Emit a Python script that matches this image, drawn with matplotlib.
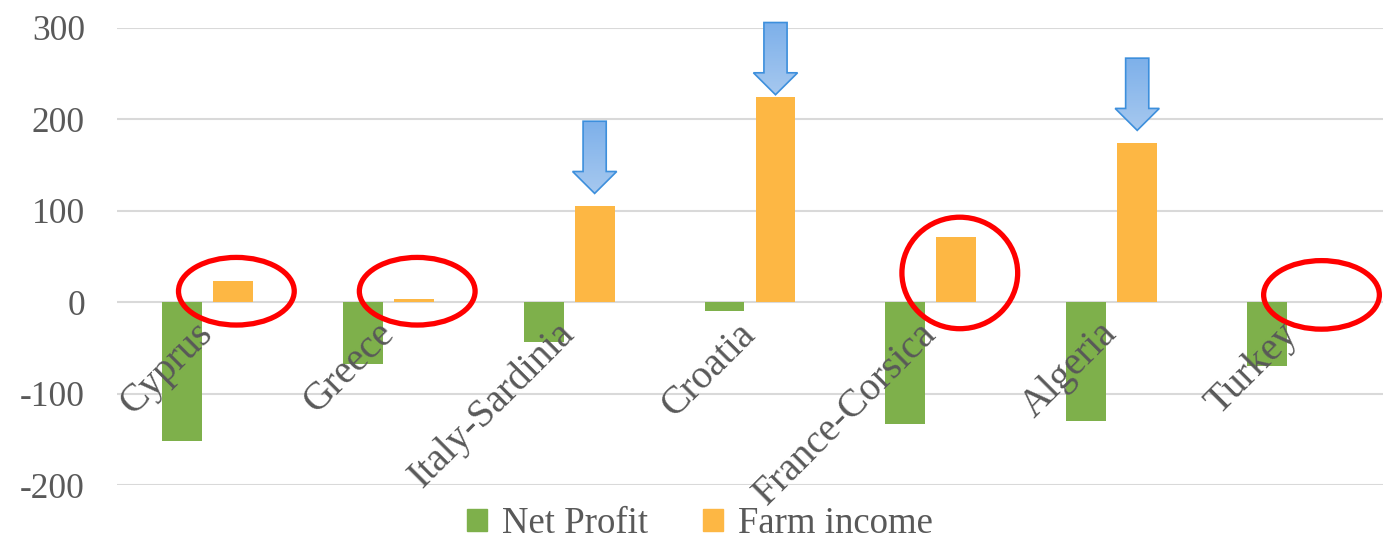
import numpy as np
import matplotlib
matplotlib.use('Agg')
import matplotlib.pyplot as plt
import matplotlib.transforms as mtransforms
from matplotlib.patches import Ellipse, Polygon, Patch

# data
countries = ['Cyprus', 'Greece', 'Italy-Sardinia', 'Croatia', 'France-Corsica', 'Algeria', 'Turkey']
net_profit = [-152, -68, -44, -10, -133, -130, -70]
farm_income = [23, 4, 105, 224, 71, 174, 0.5]

# annotations: blue arrows above some bars, red rings around others
arrow_idx = [2, 3, 5]
arrow_tips = [119, 227, 188]
ring_idx = [0, 1, 4, 6]
ring_centres = [12, 12, 32, 8]
ring_heights = [74, 74, 122, 75]

green = '#7EB04B'
orange = '#FDB744'
grey_txt = '#595959'

plt.rcParams['font.family'] = ['Liberation Serif', 'DejaVu Serif']
plt.rcParams['axes.unicode_minus'] = False

fig = plt.figure(figsize=(13.83, 5.48), dpi=100)
ax = fig.add_axes([117 / 1383, 63 / 548, 1266 / 1383, 457 / 548])

x = np.arange(len(countries))
w = 0.221
off = 0.141
ax.bar(x - off, net_profit, w, color=green, zorder=2)
ax.bar(x + off, farm_income, w, color=orange, zorder=2)

ax.set_xlim(-0.5, len(countries) - 0.5)
ax.set_ylim(-200, 300)
ax.set_yticks([-200, -100, 0, 100, 200, 300])
ax.yaxis.grid(True, color='#d9d9d9', lw=1.5, zorder=0)
ax.set_axisbelow(True)
for s in ['top', 'right', 'left', 'bottom']:
    ax.spines[s].set_visible(False)
ax.tick_params(axis='y', length=0, colors=grey_txt, labelsize=25.5, pad=23)
ax.set_xticks([])

# category labels hang from the zero line, drawn over the bars
lbl_trans = mtransforms.offset_copy(ax.transData, fig=fig, x=0, y=-19, units='points')
for i, name in enumerate(countries):
    ax.text(i, 0, name, rotation=45, rotation_mode='anchor', ha='right', va='center',
            fontsize=28.5, color=grey_txt, transform=lbl_trans, zorder=7)

# blue arrows with a light gradient
shaft = 0.064
head = 0.122
length = 79
head_len = 24
grad = np.linspace(0, 1, 100).reshape(-1, 1)
cmap = matplotlib.colors.LinearSegmentedColormap.from_list('arr', ['#a6c8ef', '#7db0ea'])
for i, tip in zip(arrow_idx, arrow_tips):
    cx = i + off
    top = tip + length
    hb = tip + head_len
    pts = [(cx - shaft, top), (cx + shaft, top), (cx + shaft, hb), (cx + head, hb),
           (cx, tip), (cx - head, hb), (cx - shaft, hb)]
    poly = Polygon(pts, closed=True, facecolor='none', edgecolor='#3d8fdc', lw=1.2,
                   zorder=5, clip_on=False)
    ax.add_patch(poly)
    im = ax.imshow(grad[::-1], extent=(cx - head, cx + head, tip, top), cmap=cmap,
                   aspect='auto', origin='upper', zorder=4)
    im.set_clip_box(fig.bbox)
    im.set_clip_path(poly)

# red rings
for i, yc, h in zip(ring_idx, ring_centres, ring_heights):
    ax.add_patch(Ellipse((i + 0.16, yc), 0.64, h, fill=False, edgecolor='#ff0000',
                         lw=3.8, zorder=6, clip_on=False))

ax.set_xlim(-0.5, len(countries) - 0.5)
ax.set_ylim(-200, 300)

handles = [Patch(color=green, label='Net Profit'), Patch(color=orange, label='Farm income')]
leg = fig.legend(handles=handles, loc='center', bbox_to_anchor=(700 / 1383, 1 - 524 / 548),
                 ncol=2, frameon=False, fontsize=26.5, handlelength=0.55, handleheight=0.55,
                 handletextpad=0.4, columnspacing=1.5, labelcolor=grey_txt)

fig.savefig('out.png', dpi=100)
